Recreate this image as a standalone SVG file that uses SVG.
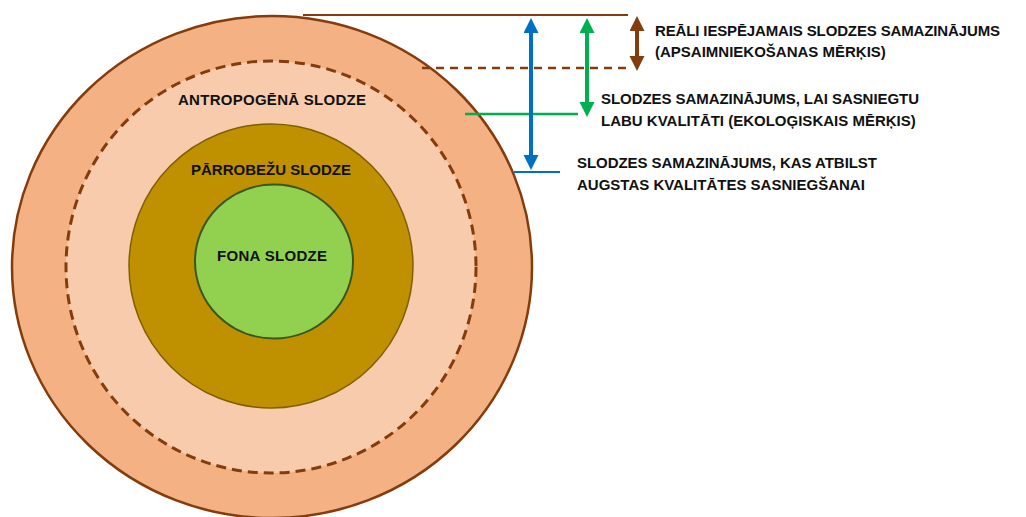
<svg xmlns="http://www.w3.org/2000/svg" width="1026" height="517" viewBox="0 0 1026 517">
<style>
  .lbl { font-family: "Liberation Sans", Arial, sans-serif; font-weight: bold; font-size: 15px; fill: #111111; }
  .mid { text-anchor: middle; }
  .brown { stroke: #843C0C; }
</style>
<defs>
  <marker id="hBlue" markerUnits="userSpaceOnUse" markerWidth="16" markerHeight="16" refX="1" refY="7.5" orient="auto-start-reverse">
    <path d="M0,0 L15,7.5 L0,15 z" fill="#0070C0"/>
  </marker>
  <marker id="hGreen" markerUnits="userSpaceOnUse" markerWidth="16" markerHeight="16" refX="1" refY="7.5" orient="auto-start-reverse">
    <path d="M0,0 L15,7.5 L0,15 z" fill="#00B050"/>
  </marker>
  <marker id="hBrown" markerUnits="userSpaceOnUse" markerWidth="16" markerHeight="16" refX="1" refY="7.5" orient="auto-start-reverse">
    <path d="M0,0 L15,7.5 L0,15 z" fill="#843C0C"/>
  </marker>
</defs>
<rect width="1026" height="517" fill="#ffffff"/>

<g id="outer">
  <ellipse cx="272" cy="267" rx="260" ry="251" fill="#F4B183" stroke="#843C0C" stroke-width="2.5"/>
</g>
<g id="antropogena">
  <ellipse cx="271" cy="267" rx="205" ry="206" fill="#F8CBAD" stroke="#843C0C" stroke-width="3" stroke-dasharray="10,6"/>
  <text class="lbl mid" x="272" y="105" textLength="188">ANTROPOGĒNĀ SLODZE</text>
</g>
<g id="parrobezu">
  <ellipse cx="271" cy="266" rx="142" ry="142" fill="#BF9000" stroke="#7F6000" stroke-width="1.5"/>
  <text class="lbl mid" x="271" y="175" textLength="160">PĀRROBEŽU SLODZE</text>
</g>
<g id="fona">
  <ellipse cx="274" cy="261.5" rx="79" ry="77" fill="#92D050" stroke="#385723" stroke-width="2"/>
  <text class="lbl mid" x="272" y="261" textLength="110">FONA SLODZE</text>
</g>

<g id="connectors">
  <line x1="303" y1="15" x2="628" y2="15" stroke="#843C0C" stroke-width="2"/>
  <line x1="422" y1="68" x2="628" y2="68" stroke="#843C0C" stroke-width="2.5" stroke-dasharray="8,6"/>
  <line x1="465" y1="114" x2="578" y2="114" stroke="#00B050" stroke-width="2.5"/>
  <line x1="514" y1="172" x2="560" y2="172" stroke="#0070C0" stroke-width="2"/>
  <line x1="531" y1="32" x2="531" y2="156" stroke="#0070C0" stroke-width="4" marker-start="url(#hBlue)" marker-end="url(#hBlue)"/>
  <line x1="587" y1="32" x2="587" y2="103" stroke="#00B050" stroke-width="4" marker-start="url(#hGreen)" marker-end="url(#hGreen)"/>
  <line x1="637" y1="30" x2="637" y2="57" stroke="#843C0C" stroke-width="4" marker-start="url(#hBrown)" marker-end="url(#hBrown)"/>
</g>

<g id="label-real">
  <text class="lbl" x="655" y="36" textLength="345">REĀLI IESPĒJAMAIS SLODZES SAMAZINĀJUMS</text>
  <text class="lbl" x="655" y="57">(APSAIMNIEKOŠANAS MĒRĶIS)</text>
</g>
<g id="label-eco">
  <text class="lbl" x="601" y="104" textLength="318">SLODZES SAMAZINĀJUMS, LAI SASNIEGTU</text>
  <text class="lbl" x="601" y="126">LABU KVALITĀTI (EKOLOĢISKAIS MĒRĶIS)</text>
</g>
<g id="label-high">
  <text class="lbl" x="577" y="168" textLength="300">SLODZES SAMAZINĀJUMS, KAS ATBILST</text>
  <text class="lbl" x="577" y="190">AUGSTAS KVALITĀTES SASNIEGŠANAI</text>
</g>
</svg>
